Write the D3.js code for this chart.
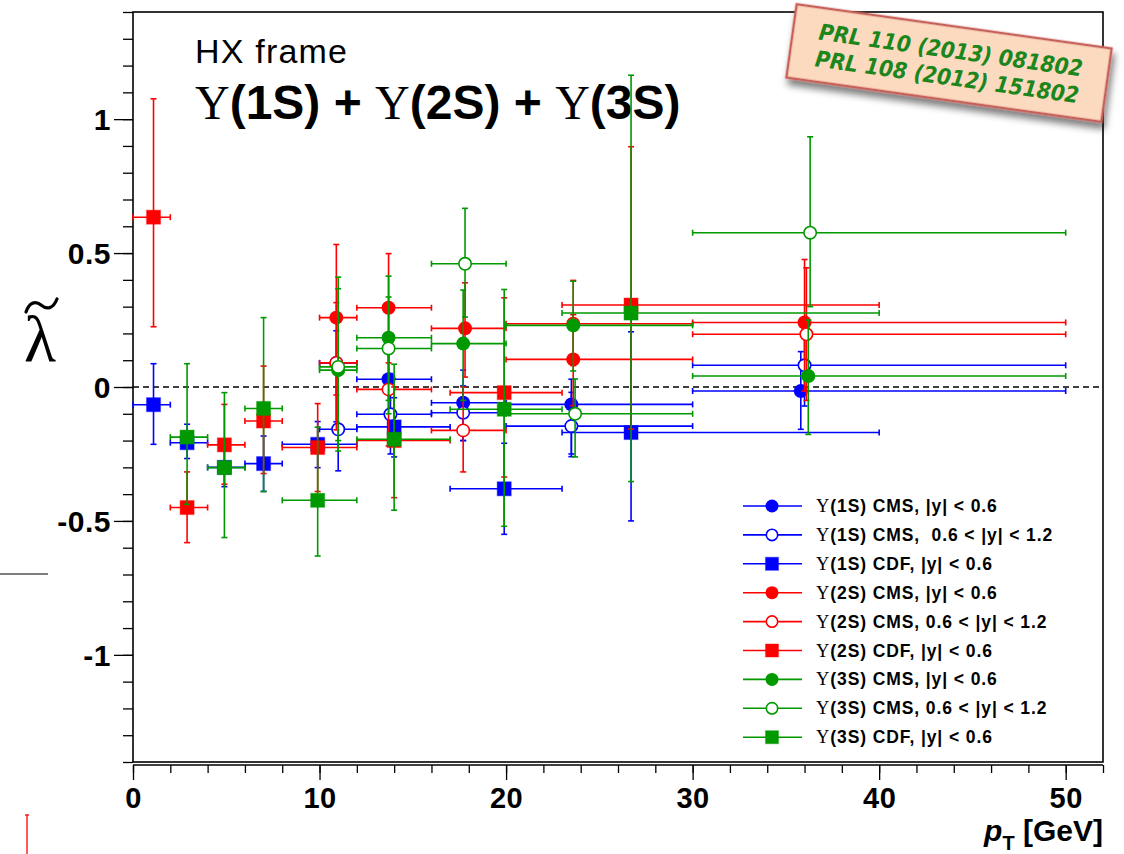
<!DOCTYPE html>
<html><head><meta charset="utf-8">
<script src="https://cdn.jsdelivr.net/npm/d3@7"></script>
<style>body{margin:0;background:#fff;}svg{display:block;}</style>
</head><body>
<script>
// ---------- DATA ----------
const xMajorTicks = [0, 10, 20, 30, 40, 50];
const xTickLabels = ["0", "10", "20", "30", "40", "50"];
const yMajorTicks = [-1, -0.5, 0, 0.5, 1];
const yTickLabels = ["-1", "-0.5", "0", "0.5", "1"];

const cmsBinLo = [10, 12, 16, 20, 30];
const cmsBinHi = [12, 16, 20, 30, 50];
const cdfBinLo = [0, 2, 4, 6, 8, 12, 17, 23];
const cdfBinHi = [2, 4, 6, 8, 12, 17, 23, 40];
const cdf3SBinLo = [2, 4, 6, 8, 12, 17, 23];
const cdf3SBinHi = [4, 6, 8, 12, 17, 23, 40];

// Y(1S)
const y1S_CMS_c_pt  = [10.9, 13.7, 17.7, 23.5, 35.8];
const y1S_CMS_c_lam = [0.09, 0.029, -0.059, -0.065, -0.015];
const y1S_CMS_c_lo  = [-0.13, -0.11, -0.20, -0.26, -0.158];
const y1S_CMS_c_hi  = [0.21, 0.17, 0.063, 0.029, 0.132];

const y1S_CMS_f_pt  = [11.0, 13.8, 17.7, 23.5, 36.0];
const y1S_CMS_f_lam = [-0.158, -0.102, -0.096, -0.146, 0.081];
const y1S_CMS_f_lo  = [-0.313, -0.25, -0.20, -0.25, -0.071];
const y1S_CMS_f_hi  = [0.09, 0.05, 0.004, -0.02, 0.221];

const y1S_CDF_pt  = [1.1, 2.9, 4.9, 7.0, 9.9, 14.0, 19.9, 26.7];
const y1S_CDF_lam = [-0.066, -0.208, -0.30, -0.286, -0.214, -0.149, -0.38, -0.17];
const y1S_CDF_lo  = [-0.214, -0.267, -0.372, -0.39, -0.301, -0.261, -0.55, -0.5];
const y1S_CDF_hi  = [0.087, -0.139, -0.23, -0.183, -0.129, -0.04, -0.21, 0.206];

// Y(2S)
const y2S_CMS_c_pt  = [10.9, 13.7, 17.8, 23.6, 36.0];
const y2S_CMS_c_lam = [0.259, 0.296, 0.219, 0.103, 0.241];
const y2S_CMS_c_lo  = [-0.03, 0.09, 0.037, -0.07, -0.015];
const y2S_CMS_c_hi  = [0.532, 0.498, 0.389, 0.27, 0.476];

const y2S_CMS_f_pt  = [10.9, 13.7, 17.7, 23.6, 36.1];
const y2S_CMS_f_lam = [0.09, -0.009, -0.162, 0.236, 0.197];
const y2S_CMS_f_lo  = [-0.16, -0.22, -0.317, 0.08, -0.05];
const y2S_CMS_f_hi  = [0.315, 0.2, 0.0, 0.398, 0.445];

const y2S_CDF_pt  = [1.1, 2.9, 4.9, 7.0, 9.9, 14.0, 19.9, 26.7];
const y2S_CDF_lam = [0.634, -0.45, -0.216, -0.127, -0.226, -0.2, -0.021, 0.306];
const y2S_CDF_lo  = [0.225, -0.581, -0.363, -0.323, -0.39, -0.413, -0.336, -0.157];
const y2S_CDF_hi  = [1.076, -0.317, -0.065, 0.078, -0.062, 0.0, 0.333, 0.897];

// Y(3S)
const y3S_CMS_c_pt  = [11.0, 13.7, 17.7, 23.6, 36.2];
const y3S_CMS_c_lam = [0.063, 0.184, 0.162, 0.23, 0.041];
const y3S_CMS_c_lo  = [-0.239, -0.05, -0.05, 0.06, -0.177];
const y3S_CMS_c_hi  = [0.41, 0.414, 0.362, 0.395, 0.25];

const y3S_CMS_f_pt  = [11.0, 13.7, 17.8, 23.7, 36.3];
const y3S_CMS_f_lam = [0.075, 0.144, 0.46, -0.1, 0.576];
const y3S_CMS_f_lo  = [-0.2, -0.1, 0.261, -0.261, 0.30];
const y3S_CMS_f_hi  = [0.367, 0.336, 0.667, 0.03, 0.934];

const y3S_CDF_pt  = [2.9, 4.9, 7.0, 9.9, 14.0, 19.9, 26.7];
const y3S_CDF_lam = [-0.187, -0.301, -0.08, -0.423, -0.195, -0.083, 0.276];
const y3S_CDF_lo  = [-0.438, -0.562, -0.39, -0.631, -0.46, -0.52, -0.353];
const y3S_CDF_hi  = [0.087, -0.021, 0.259, -0.15, 0.085, 0.364, 1.164];

const legendLabels = [
  "(1S) CMS, |y| < 0.6",
  "(1S) CMS,  0.6 < |y| < 1.2",
  "(1S) CDF, |y| < 0.6",
  "(2S) CMS, |y| < 0.6",
  "(2S) CMS, 0.6 < |y| < 1.2",
  "(2S) CDF, |y| < 0.6",
  "(3S) CMS, |y| < 0.6",
  "(3S) CMS, 0.6 < |y| < 1.2",
  "(3S) CDF, |y| < 0.6"
];
const stampLines = ["PRL 110 (2013) 081802", "PRL 108 (2012) 151802"];

// ---------- SETUP ----------
const W = 1124, H = 854;
const BLUE = "#0000ff", RED = "#ff0000", GREEN = "#009900";
const mk = (pt, lam, lo, hi, blo, bhi) => pt.map((p, i) => ({pt: p, lam: lam[i], lo: lo[i], hi: hi[i], blo: blo[i], bhi: bhi[i]}));
const series = [
  {color: BLUE,  shape: "circle", open: false, data: mk(y1S_CMS_c_pt, y1S_CMS_c_lam, y1S_CMS_c_lo, y1S_CMS_c_hi, cmsBinLo, cmsBinHi)},
  {color: BLUE,  shape: "circle", open: true,  data: mk(y1S_CMS_f_pt, y1S_CMS_f_lam, y1S_CMS_f_lo, y1S_CMS_f_hi, cmsBinLo, cmsBinHi)},
  {color: BLUE,  shape: "square", open: false, data: mk(y1S_CDF_pt, y1S_CDF_lam, y1S_CDF_lo, y1S_CDF_hi, cdfBinLo, cdfBinHi)},
  {color: RED,   shape: "circle", open: false, data: mk(y2S_CMS_c_pt, y2S_CMS_c_lam, y2S_CMS_c_lo, y2S_CMS_c_hi, cmsBinLo, cmsBinHi)},
  {color: RED,   shape: "circle", open: true,  data: mk(y2S_CMS_f_pt, y2S_CMS_f_lam, y2S_CMS_f_lo, y2S_CMS_f_hi, cmsBinLo, cmsBinHi)},
  {color: RED,   shape: "square", open: false, data: mk(y2S_CDF_pt, y2S_CDF_lam, y2S_CDF_lo, y2S_CDF_hi, cdfBinLo, cdfBinHi)},
  {color: GREEN, shape: "circle", open: false, data: mk(y3S_CMS_c_pt, y3S_CMS_c_lam, y3S_CMS_c_lo, y3S_CMS_c_hi, cmsBinLo, cmsBinHi)},
  {color: GREEN, shape: "circle", open: true,  data: mk(y3S_CMS_f_pt, y3S_CMS_f_lam, y3S_CMS_f_lo, y3S_CMS_f_hi, cmsBinLo, cmsBinHi)},
  {color: GREEN, shape: "square", open: false, data: mk(y3S_CDF_pt, y3S_CDF_lam, y3S_CDF_lo, y3S_CDF_hi, cdf3SBinLo, cdf3SBinHi)}
];

const L = 133, R = 1103, T = 12, B = 762;
const x = d3.scaleLinear().domain([0, 52]).range([L, R]);
const y = d3.scaleLinear().domain([-1.4, 1.4]).range([B, T]);

const svg = d3.select("body").append("svg").attr("width", W).attr("height", H);
const defs = svg.append("defs");
const f = defs.append("filter").attr("id", "shadow").attr("x", "-10%").attr("y", "-20%").attr("width", "130%").attr("height", "160%");
f.append("feDropShadow").attr("dx", 3).attr("dy", 6).attr("stdDeviation", 3.5).attr("flood-color", "#000").attr("flood-opacity", 0.5);

const SANS = "Liberation Sans, Arial, Helvetica, sans-serif";
const SERIF = "Liberation Serif, Times New Roman, serif";

// Axes
const yAxisMinor = d3.axisLeft(y).tickValues(d3.range(-14, 15).map(v => v / 10)).tickSize(10).tickFormat("");
svg.append("g").attr("transform", `translate(${L},0)`).call(yAxisMinor)
  .call(g => g.select(".domain").remove())
  .call(g => g.selectAll("line").attr("stroke", "#000").attr("stroke-width", 1.3));
const yAxis = d3.axisLeft(y).tickValues(yMajorTicks).tickSize(19).tickPadding(3)
  .tickFormat((d, i) => yTickLabels[i]);
svg.append("g").attr("transform", `translate(${L},0)`).call(yAxis)
  .call(g => g.select(".domain").remove())
  .call(g => g.selectAll("line").attr("stroke", "#000").attr("stroke-width", 1.3))
  .call(g => g.selectAll("text").attr("font-family", SANS).attr("font-weight", "bold").attr("font-size", 30).attr("letter-spacing", 0.5).attr("fill", "#000").attr("dy", "0.36em"));

const xAxisMinor = d3.axisBottom(x).tickValues(d3.range(0, 53, 2)).tickSize(8).tickFormat("");
svg.append("g").attr("transform", `translate(0,${B + 3})`).call(xAxisMinor)
  .call(g => g.select(".domain").remove())
  .call(g => g.selectAll("line").attr("stroke", "#000").attr("stroke-width", 1.3));
const xAxis = d3.axisBottom(x).tickValues(xMajorTicks).tickSize(15).tickPadding(7)
  .tickFormat((d, i) => xTickLabels[i]);
svg.append("g").attr("transform", `translate(0,${B + 3})`).call(xAxis)
  .call(g => g.select(".domain").remove())
  .call(g => g.selectAll("line").attr("stroke", "#000").attr("stroke-width", 1.3))
  .call(g => g.selectAll("text").attr("font-family", SANS).attr("font-weight", "bold").attr("font-size", 29).attr("letter-spacing", 0.5).attr("fill", "#000"));

// axis line under frame
svg.append("line").attr("x1", L).attr("x2", R).attr("y1", B + 3).attr("y2", B + 3).attr("stroke", "#000").attr("stroke-width", 1.3);

// Frame
svg.append("rect").attr("x", L).attr("y", T).attr("width", R - L).attr("height", B - T)
  .attr("fill", "none").attr("stroke", "#000").attr("stroke-width", 1.6);

// zero dashed line
svg.append("line").attr("x1", L).attr("x2", R).attr("y1", y(0)).attr("y2", y(0))
  .attr("stroke", "#000").attr("stroke-width", 1.5).attr("stroke-dasharray", "6,4");

// Axis titles
const xt = svg.append("text").attr("x", R).attr("y", 841).attr("text-anchor", "end")
  .attr("font-family", SANS).attr("font-weight", "bold").attr("font-size", 30).attr("fill", "#000");
xt.append("tspan").attr("font-style", "italic").text("p");
xt.append("tspan").attr("font-size", 20).attr("dy", 9).text("T");
xt.append("tspan").attr("dy", -9).text(" [GeV]");

svg.append("text").attr("x", 40).attr("y", 361).attr("text-anchor", "middle")
  .attr("font-family", SERIF).attr("font-size", 66).attr("fill", "#000").text("λ");
// tilde accent of the axis symbol
svg.append("path").attr("d", "M26,312 C29,303 35,300 41,305 C47,310 53,309 57,299")
  .attr("fill", "none").attr("stroke", "#000").attr("stroke-width", 3.2).attr("stroke-linecap", "round");

// Titles
svg.append("text").attr("x", 195).attr("y", 63).attr("font-family", SANS).attr("font-size", 34).attr("letter-spacing", 1.2).attr("fill", "#000").text("HX frame");
const tt = svg.append("text").attr("x", 195).attr("y", 119).attr("font-family", SANS).attr("font-weight", "bold").attr("font-size", 48).attr("fill", "#000");
["1S", "2S", "3S"].forEach((s, i) => {
  tt.append("tspan").attr("font-family", SERIF).attr("font-weight", "normal").text("Υ");
  tt.append("tspan").text(`(${s})` + (i < 2 ? " + " : ""));
});

// Data
const CAP = 3;
function drawMarker(g, shape, open, color, cx, cy, r) {
  if (shape === "circle") {
    g.append("circle").attr("cx", cx).attr("cy", cy).attr("r", open ? r - 0.8 : r)
      .attr("fill", open ? "#fff" : color).attr("stroke", color).attr("stroke-width", open ? 1.6 : 0);
  } else {
    g.append("rect").attr("x", cx - r).attr("y", cy - r).attr("width", 2 * r).attr("height", 2 * r)
      .attr("fill", color).attr("stroke", color).attr("stroke-opacity", 0.35).attr("stroke-width", 1.2);
  }
}
const plot = svg.append("g");
series.forEach(s => {
  const g = plot.append("g").attr("stroke", s.color).attr("stroke-width", 1.6);
  s.data.forEach(d => {
    const cx = x(d.pt), cy = y(d.lam);
    g.append("line").attr("x1", x(d.blo)).attr("x2", x(d.bhi)).attr("y1", cy).attr("y2", cy);
    g.append("line").attr("x1", cx).attr("x2", cx).attr("y1", y(d.lo)).attr("y2", y(d.hi));
    [d.blo, d.bhi].forEach(v => g.append("line").attr("x1", x(v)).attr("x2", x(v)).attr("y1", cy - CAP).attr("y2", cy + CAP));
    [d.lo, d.hi].forEach(v => g.append("line").attr("x1", cx - CAP).attr("x2", cx + CAP).attr("y1", y(v)).attr("y2", y(v)));
    drawMarker(g, s.shape, s.open, s.color, cx, cy, 7);
  });
});

// Legend
const lg = svg.append("g");
series.forEach((s, i) => {
  const ly = 506 + i * 28.9;
  lg.append("line").attr("x1", 743).attr("x2", 802).attr("y1", ly).attr("y2", ly).attr("stroke", s.color).attr("stroke-width", 1.6);
  drawMarker(lg, s.shape, s.open, s.color, 772, ly, 6.5);
  const t = lg.append("text").attr("x", 816).attr("y", ly + 6).attr("font-family", SANS).attr("font-weight", "bold").attr("font-size", 17.5).attr("letter-spacing", 0.9).attr("fill", "#000").attr("xml:space", "preserve");
  t.append("tspan").attr("font-family", SERIF).attr("font-weight", "normal").attr("font-size", 18.5).text("Υ");
  t.append("tspan").text(legendLabels[i]);
});

// Stamp
const st = svg.append("g").attr("transform", "translate(949,63) rotate(8)");
st.append("rect").attr("x", -159).attr("y", -37).attr("width", 318).attr("height", 74)
  .attr("fill", "#fbdac0").attr("stroke", "#c8605a").attr("stroke-width", 2.5).attr("filter", "url(#shadow)");
stampLines.forEach((s, i) => {
  st.append("text").attr("x", 0).attr("y", -5 + i * 27).attr("text-anchor", "middle")
    .attr("font-family", "DejaVu Sans Condensed, DejaVu Sans, sans-serif").attr("font-weight", "bold").attr("font-style", "italic")
    .attr("font-size", 22.5).attr("fill", "#1c861c").text(s);
});

// stray marks present in the original picture
svg.append("line").attr("x1", 0).attr("x2", 48).attr("y1", 574).attr("y2", 574).attr("stroke", "#000").attr("stroke-width", 1.2);
svg.append("line").attr("x1", 27).attr("x2", 27).attr("y1", 815).attr("y2", 854).attr("stroke", RED).attr("stroke-width", 1.3);
svg.append("line").attr("x1", 25).attr("x2", 29).attr("y1", 815).attr("y2", 815).attr("stroke", RED).attr("stroke-width", 1.3);
</script>
</body></html>
